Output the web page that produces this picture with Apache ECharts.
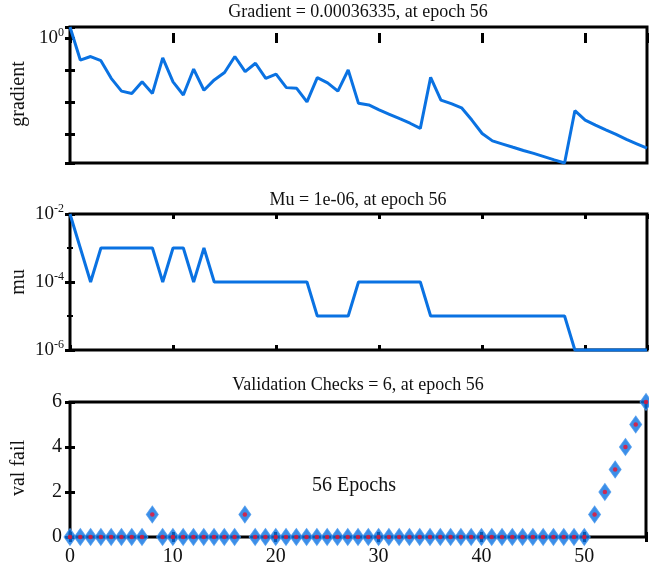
<!DOCTYPE html>
<html>
<head>
<meta charset="utf-8">
<script src="https://cdn.jsdelivr.net/npm/echarts@6/dist/echarts.min.js"></script>
<style>
html, body { margin: 0; background: #fff; }
#chart { width: 649px; height: 573px; }
</style>
</head>
<body>
<div id="chart"></div>
<script>
// training record, one value per epoch (0..56)
const epochs = [0,1,2,3,4,5,6,7,8,9,10,11,12,13,14,15,16,17,18,19,20,21,22,23,24,25,26,27,28,
  29,30,31,32,33,34,35,36,37,38,39,40,41,42,43,44,45,46,47,48,49,50,51,52,53,54,55,56];
const gradient = [2.19,0.204,0.263,0.195,0.0550,0.0219,0.0186,0.0427,0.0186,0.240,0.0427,0.0166,
  0.107,0.0234,0.0490,0.0832,0.263,0.0891,0.162,0.0550,0.0741,0.0282,0.0269,0.0102,0.0575,0.0398,
  0.0219,0.100,0.00912,0.00813,0.00575,0.00417,0.00302,0.00219,0.00151,0.0589,0.0115,0.00891,
  0.00661,0.00275,0.00105,0.000617,0.000490,0.000389,0.000309,0.000251,0.000200,0.000158,0.000126,
  0.00537,0.00275,0.00191,0.00135,0.000977,0.000692,0.000501,0.00036335];
const mu = [1e-2,1e-3,1e-4,1e-3,1e-3,1e-3,1e-3,1e-3,1e-3,1e-4,1e-3,1e-3,1e-4,1e-3,
  1e-4,1e-4,1e-4,1e-4,1e-4,1e-4,1e-4,1e-4,1e-4,1e-4,
  1e-5,1e-5,1e-5,1e-5,
  1e-4,1e-4,1e-4,1e-4,1e-4,1e-4,1e-4,
  1e-5,1e-5,1e-5,1e-5,1e-5,1e-5,1e-5,1e-5,1e-5,1e-5,1e-5,1e-5,1e-5,1e-5,
  1e-6,1e-6,1e-6,1e-6,1e-6,1e-6,1e-6,1e-6];
const valFail = [0,0,0,0,0,0,0,0,1,0,0,0,0,0,0,0,0,1,0,0,0,0,0,0,0,0,0,0,0,0,0,0,0,0,0,0,0,0,
  0,0,0,0,0,0,0,0,0,0,0,0,0,1,2,3,4,5,6];
const xTicks = [0,10,20,30,40,50];
const valTicks = [0,2,4,6];

const titles = ['Gradient = 0.00036335, at epoch 56', 'Mu = 1e-06, at epoch 56', 'Validation Checks = 6, at epoch 56'];
const yNames = ['gradient', 'mu', 'val fail'];

const blue = '#0a72e2';
const red = '#f0102c';
const ink = '#111';
const font = '"Liberation Serif", "DejaVu Serif", serif';

const logGrad = gradient.map(v => Math.log10(v));
const logMu = mu.map(v => Math.log10(v));

const rich = {
  b: { fontFamily: font, fontSize: 19, lineHeight: 22, color: ink },
  s: { fontFamily: font, fontSize: 12, verticalAlign: 'top', color: ink }
};

const gridBox = [
  { left: 70, top: 27, width: 577, height: 136 },
  { left: 70, top: 214, width: 577, height: 136 },
  { left: 70, top: 402, width: 577, height: 135 }
];

const tick = { inside: true, length: 5, lineStyle: { color: '#000', width: 3 } };

function xPair(i, labels) {
  return [
    { gridIndex: i, type: 'value', min: 0, max: 56, interval: 10, position: 'bottom',
      axisLine: { show: false }, axisTick: tick, splitLine: { show: false },
      axisLabel: { show: labels, margin: 10, fontFamily: font, fontSize: 20, color: ink,
        formatter: v => xTicks.includes(v) ? String(v) : '' } },
    { gridIndex: i, type: 'value', min: 0, max: 56, interval: 10, position: 'top',
      axisLine: { show: false }, axisTick: tick, splitLine: { show: false }, axisLabel: { show: false } }
  ];
}

function yPair(i, opts) {
  return [
    Object.assign({ gridIndex: i, type: 'value', position: 'left',
      axisLine: { show: false }, axisTick: tick, splitLine: { show: false } }, opts),
    Object.assign({ gridIndex: i, type: 'value', position: 'right',
      axisLine: { show: false }, axisTick: tick, splitLine: { show: false } }, opts,
      { axisLabel: { show: false } })
  ];
}

const supLabel = keep => v => (Number.isInteger(Math.round(v * 1e6) / 1e6) && keep(Math.round(v)))
  ? '{b|10}{s|' + Math.round(v) + '}' : '';

const chart = echarts.init(document.getElementById('chart'));
chart.setOption({
  animation: false,
  backgroundColor: '#fff',
  grid: gridBox.map(g => Object.assign({ show: true, borderColor: '#000', borderWidth: 3, backgroundColor: '#fff' }, g)),
  xAxis: [].concat(xPair(0, false), xPair(1, false), xPair(2, true)),
  yAxis: [].concat(
    yPair(0, { min: Math.min(...logGrad), max: Math.max(...logGrad),
      axisLabel: { margin: 6, rich: rich, formatter: supLabel(n => n === 0) } }),
    yPair(1, { min: -6, max: -2, interval: 2,
      minorTick: { show: true, splitNumber: 2, length: 3, lineStyle: { color: '#000', width: 2 } },
      axisLabel: { margin: 6, rich: rich, formatter: supLabel(n => n % 2 === 0) } }),
    yPair(2, { min: 0, max: 6, interval: 2,
      axisLabel: { margin: 8, fontFamily: font, fontSize: 20, color: ink,
        formatter: v => valTicks.includes(v) ? String(v) : '' } })
  ),
  series: [
    { type: 'line', xAxisIndex: 0, yAxisIndex: 0, showSymbol: false, clip: false,
      lineStyle: { color: blue, width: 3 }, data: epochs.map((e, i) => [e, logGrad[i]]) },
    { type: 'line', xAxisIndex: 2, yAxisIndex: 2, showSymbol: false, clip: false,
      lineStyle: { color: blue, width: 3 }, data: epochs.map((e, i) => [e, logMu[i]]) },
    { type: 'scatter', xAxisIndex: 4, yAxisIndex: 4, symbol: 'diamond', symbolSize: [12, 17], clip: false,
      itemStyle: { color: blue, borderColor: '#4a98ee', borderWidth: 1 },
      data: epochs.map((e, i) => [e, valFail[i]]), z: 3 },
    { type: 'scatter', xAxisIndex: 4, yAxisIndex: 4, symbol: 'circle', symbolSize: 4.5, clip: false,
      itemStyle: { color: red }, data: epochs.map((e, i) => [e, valFail[i]]), z: 4 }
  ],
  graphic: [
    { type: 'text', x: 358, y: 12, style: { text: titles[0], font: '18px ' + font, fill: ink, align: 'center', verticalAlign: 'middle' } },
    { type: 'text', x: 358, y: 200, style: { text: titles[1], font: '18px ' + font, fill: ink, align: 'center', verticalAlign: 'middle' } },
    { type: 'text', x: 358, y: 385, style: { text: titles[2], font: '18px ' + font, fill: ink, align: 'center', verticalAlign: 'middle' } },
    { type: 'text', x: 19, y: 94, rotation: Math.PI / 2, style: { text: yNames[0], font: '20px ' + font, fill: ink, align: 'center', verticalAlign: 'middle' } },
    { type: 'text', x: 19, y: 282, rotation: Math.PI / 2, style: { text: yNames[1], font: '20px ' + font, fill: ink, align: 'center', verticalAlign: 'middle' } },
    { type: 'text', x: 19, y: 468, rotation: Math.PI / 2, style: { text: yNames[2], font: '20px ' + font, fill: ink, align: 'center', verticalAlign: 'middle' } },
    { type: 'text', x: 354, y: 486, style: { text: '56 Epochs', font: '20px ' + font, fill: ink, align: 'center', verticalAlign: 'middle' } }
  ]
});
</script>
</body>
</html>
